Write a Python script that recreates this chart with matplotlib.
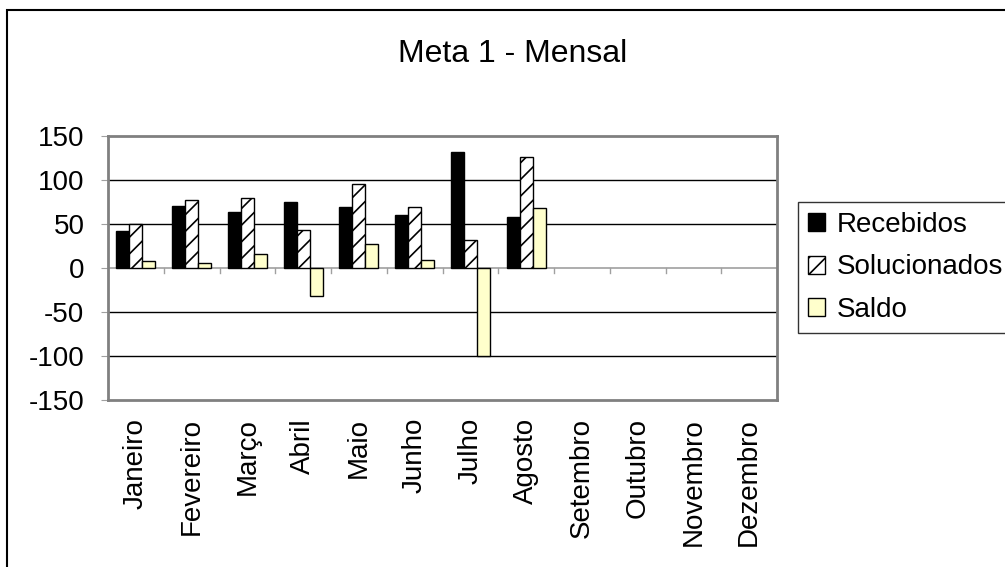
import numpy as np
import matplotlib.pyplot as plt
from matplotlib.patches import Rectangle

# meta 1 - dados mensais
meses = ['Janeiro', 'Fevereiro', 'Março', 'Abril', 'Maio', 'Junho', 'Julho',
         'Agosto', 'Setembro', 'Outubro', 'Novembro', 'Dezembro']
recebidos = [42, 71, 64, 75, 69, 60, 132, 58, None, None, None, None]
solucionados = [50, 77, 80, 43, 96, 69, 32, 126, None, None, None, None]
saldo = [8, 6, 16, -32, 27, 9, -100, 68, None, None, None, None]
yticks = [-150, -100, -50, 0, 50, 100, 150]

plt.rcParams['font.family'] = ['Liberation Sans', 'DejaVu Sans']
plt.rcParams['hatch.color'] = '#505050'
plt.rcParams['hatch.linewidth'] = 1.2

W, H = 1005, 567
fig = plt.figure(figsize=(W / 100, H / 100), dpi=100)
ax = fig.add_axes([108 / W, 1 - 400 / H, 669 / W, 264 / H])

# outer chart border
fig.patches.append(Rectangle((7 / W, -0.05), 1.05, 1 - 10 / H + 0.05,
                             transform=fig.transFigure, fill=False,
                             edgecolor='black', linewidth=1.5))

x = np.arange(len(meses))
w = 0.233
r = np.array([np.nan if v is None else v for v in recebidos], dtype=float)
s = np.array([np.nan if v is None else v for v in solucionados], dtype=float)
d = np.array([np.nan if v is None else v for v in saldo], dtype=float)

b1 = ax.bar(x - w, r, w, color='black', edgecolor='black', linewidth=1,
            label='Recebidos', zorder=3)
b2 = ax.bar(x, s, w, color='white', edgecolor='black', hatch='//', linewidth=1,
            label='Solucionados', zorder=3)
b3 = ax.bar(x + w, d, w, color='#FFFFCC', edgecolor='black', linewidth=1,
            label='Saldo', zorder=3)

ax.set_xlim(-0.5, len(meses) - 0.5)
ax.set_ylim(-150, 150)
ax.set_yticks(yticks)
ax.set_yticklabels([str(t) for t in yticks], fontsize=20)
for t in yticks[1:-1]:
    if t != 0:
        ax.axhline(t, color='black', linewidth=1, zorder=1)
ax.axhline(0, color='#A0A0A0', linewidth=1.2, zorder=2)

# category ticks on zero line
for i in range(1, len(meses)):
    ax.plot([i - 0.5, i - 0.5], [0, -6], color='#A0A0A0', linewidth=1, zorder=2)

ax.set_xticks(x)
ax.set_xticklabels(meses, rotation=90, fontsize=20, va='top')
ax.tick_params(axis='x', length=0, pad=13)
ax.tick_params(axis='y', length=5, color='#A0A0A0', pad=12)

for sp in ax.spines.values():
    sp.set_color('#808080')
    sp.set_linewidth(2)

fig.text(513 / W, 1 - 54 / H, 'Meta 1 - Mensal', ha='center', va='center', fontsize=23)

leg = fig.legend(handles=[b1, b2, b3], loc='upper left',
                 bbox_to_anchor=(798 / W, 1 - 202 / H), fontsize=20,
                 frameon=True, fancybox=False, edgecolor='black',
                 handlelength=0.61, handleheight=0.61, handletextpad=0.43,
                 labelspacing=0.6, borderpad=0.35, borderaxespad=0)
leg.get_frame().set_linewidth(1)

fig.savefig('out.png', dpi=100)
